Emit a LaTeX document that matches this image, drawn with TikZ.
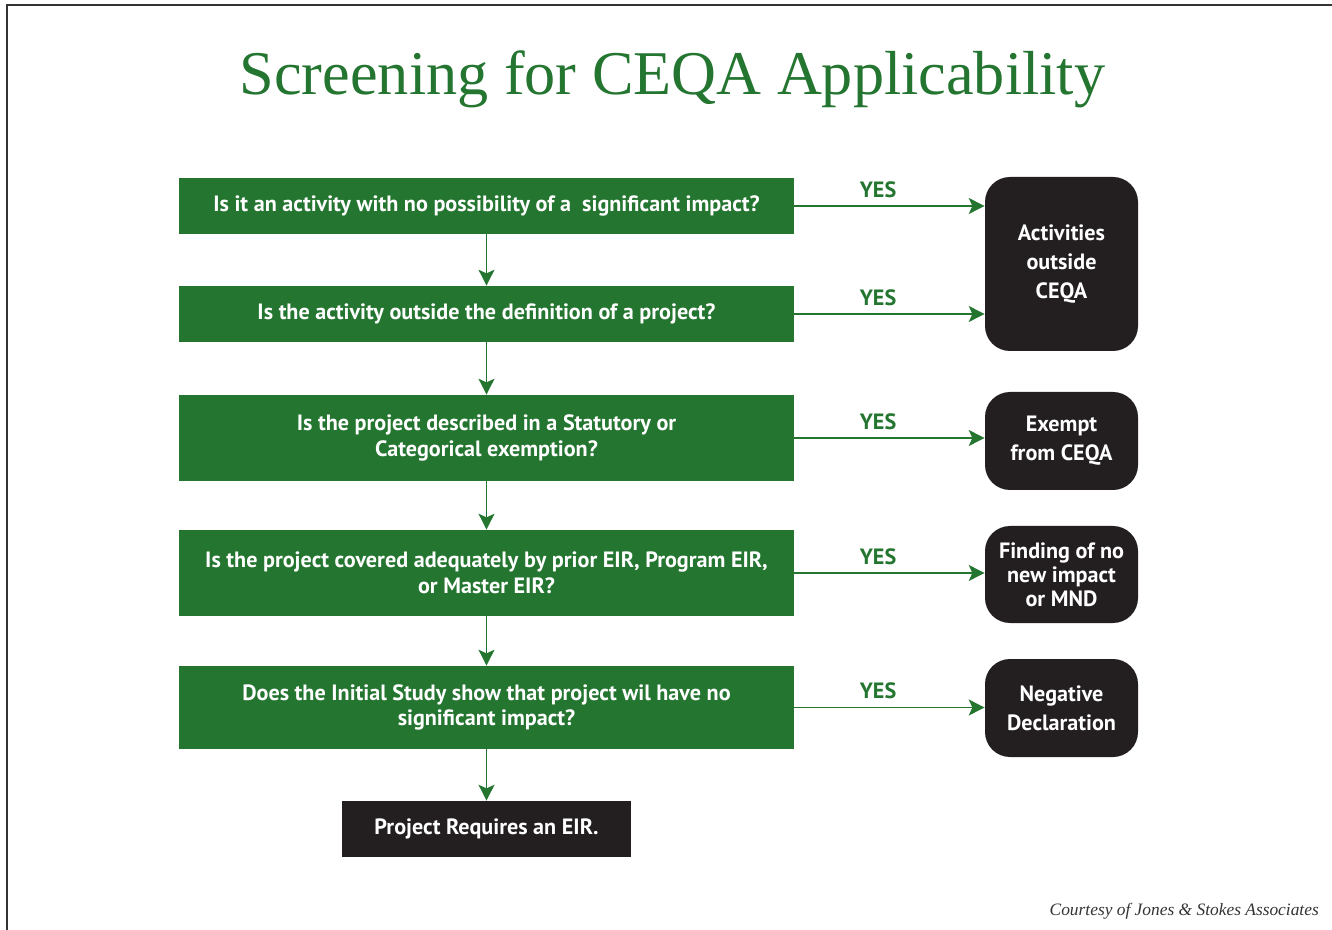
\documentclass[tikz,border=0pt]{standalone}
\usepackage{fontspec}
\setmainfont{PT Sans}
\newfontfamily\titlefont{Liberation Serif}
\usetikzlibrary{arrows.meta,positioning}
\definecolor{ceqagreen}{RGB}{35,117,48}
\definecolor{ceqablack}{RGB}{35,31,32}

\begin{document}
\begin{tikzpicture}[
    boxfont/.style={font=\fontsize{12.6}{14.7}\selectfont\bfseries},
    question/.style={rectangle, fill=ceqagreen, text=white, minimum width=12.3cm, align=center, boxfont},
    outcome/.style={rectangle, rounded corners=0.5cm, fill=ceqablack, text=white, minimum width=3.06cm, align=center, font=\fontsize{12.6}{16.5}\selectfont\bfseries},
    final/.style={rectangle, fill=ceqablack, text=white, minimum width=5.78cm, minimum height=1.12cm, align=center, boxfont},
    flow/.style={-{Stealth[length=9pt,width=9pt,inset=2pt]}, ceqagreen, line width=1.1pt},
    yes/.style={above=1pt, text=ceqagreen, boxfont},
]
    \useasboundingbox (0,0) rectangle (26.64,-18.6);

    % Frame
    \draw[line width=1.1pt, black!80] (0.14,-18.6) -- (0.14,-0.1) -- (26.64,-0.1);

    % Title
    \node[anchor=base, text=ceqagreen, font=\titlefont\fontsize{35.4}{40}\selectfont] (title) at (13.45,-1.9) {Screening for CEQA Applicability};

    % Screening questions
    \node[question, minimum height=1.12cm] (q1) at (9.73,-4.12) {Is it an activity with no possibility of a\ \ significant impact?};
    \node[question, minimum height=1.12cm] (q2) at (9.73,-6.28) {Is the activity outside the definition of a project?};
    \node[question, minimum height=1.72cm] (q3) at (9.73,-8.76) {Is the project described in a Statutory or\\Categorical exemption?};
    \node[question, minimum height=1.72cm] (q4) at (9.73,-11.46) {Is the project covered adequately by prior EIR, Program EIR,\\or Master EIR?};
    \node[question, minimum height=1.66cm] (q5) at (9.73,-14.15) {Does the Initial Study show that project wil have no\\significant impact?};
    \node[final] (eir) at (9.73,-16.58) {Project Requires an EIR.};

    % Outcomes
    \node[outcome, minimum height=3.48cm] (outside) at (21.23,-5.28) {Activities\\outside\\CEQA};
    \node[outcome, minimum height=1.96cm] (exempt) at (21.23,-8.82) {Exempt\\from CEQA};
    \node[outcome, minimum height=1.94cm, font=\fontsize{12.6}{13.6}\selectfont\bfseries] (finding) at (21.23,-11.49) {Finding of no\\new impact\\or MND};
    \node[outcome, minimum height=1.96cm] (negdec) at (21.23,-14.16) {Negative\\Declaration};

    % NO path
    \draw[flow] (q1) -- (q2);
    \draw[flow] (q2) -- (q3);
    \draw[flow] (q3) -- (q4);
    \draw[flow] (q4) -- (q5);
    \draw[flow] (q5) -- (eir);

    % YES paths
    \draw[flow] (q1.east) -- node[yes, pos=0.44] {YES} (q1.east -| outside.west);
    \draw[flow] (q2.east) -- node[yes, pos=0.44] {YES} (q2.east -| outside.west);
    \draw[flow] (q3.east) -- node[yes, pos=0.44] {YES} (q3.east -| exempt.west);
    \draw[flow] (q4.east) -- node[yes, pos=0.44] {YES} (q4.east -| finding.west);
    \draw[flow] (q5.east) -- node[yes, pos=0.44] {YES} (q5.east -| negdec.west);

    % Credit
    \node[anchor=base east, text=black!80, font=\titlefont\itshape\fontsize{9.9}{12}\selectfont] (credit) at (26.5,-18.3) {Courtesy of Jones \& Stokes Associates};
\end{tikzpicture}
\end{document}
